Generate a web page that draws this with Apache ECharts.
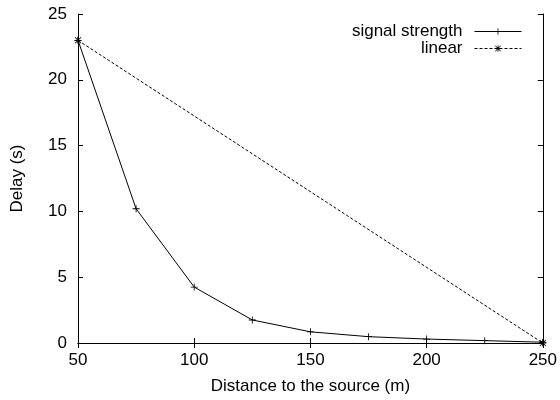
<!DOCTYPE html>
<html><head><meta charset="utf-8">
<script src="https://cdn.jsdelivr.net/npm/echarts@6/dist/echarts.min.js"></script>
<style>html,body{margin:0;padding:0;background:#fff}#c{width:560px;height:400px}</style>
</head><body><div id="c"></div>
<script>
const distances = [50, 75, 100, 125, 150, 175, 200, 225, 250];
const signalDelay = [23.0, 10.2, 4.25, 1.75, 0.85, 0.48, 0.3, 0.18, 0.06];
const linearX = [50, 250];
const linearDelay = [23.0, 0.0];
const xTicks = [50, 100, 150, 200, 250];
const yTicks = [0, 5, 10, 15, 20, 25];

const plusPath = 'path://M4.4,0H5.6V4.4H10V5.6H5.6V10H4.4V5.6H0V4.4H4.4Z';
const starPath = 'path://M4.4,0H5.6V4.4H10V5.6H5.6V10H4.4V5.6H0V4.4H4.4Z M1.2,0.4L5,4.2L8.8,0.4L9.6,1.2L5.8,5L9.6,8.8L8.8,9.6L5,5.8L1.2,9.6L0.4,8.8L4.2,5L0.4,1.2Z';

const font = 'Liberation Sans, Arial, sans-serif';
const fs = 17;
const chart = echarts.init(document.getElementById('c'), null, {renderer: 'canvas'});
const axisCommon = {
  axisLine: {show: true, lineStyle: {color: '#000', width: 1}},
  axisTick: {show: true, inside: true, length: 5, lineStyle: {color: '#000'}},
  splitLine: {show: false}
};
chart.setOption({
  animation: false,
  backgroundColor: '#fff',
  grid: {left: 78, right: 17, top: 14, bottom: 57},
  legend: {
    orient: 'vertical', right: 38, top: 23, align: 'right', padding: 0,
    itemWidth: 47, itemHeight: 8, itemGap: 0,
    lineStyle: {width: 1},
    itemStyle: {borderWidth: 0},
    textStyle: {fontFamily: font, fontSize: fs, lineHeight: 17, color: '#000', padding: [0, 7, 0, 0]},
    data: [{name: 'signal strength'}, {name: 'linear'}]
  },
  xAxis: [
    Object.assign({type: 'value', min: 50, max: 250, interval: 50, position: 'bottom',
      name: 'Distance to the source (m)', nameLocation: 'middle', nameGap: 35,
      nameTextStyle: {fontFamily: font, fontSize: fs, color: '#000'},
      axisLabel: {fontFamily: font, fontSize: fs, color: '#000', margin: 9}}, axisCommon),
    Object.assign({type: 'value', min: 50, max: 250, interval: 50, position: 'top',
      axisLabel: {show: false}}, axisCommon)
  ],
  yAxis: [
    Object.assign({type: 'value', min: 0, max: 25, interval: 5, position: 'left',
      name: 'Delay (s)', nameLocation: 'middle', nameGap: 52,
      nameTextStyle: {fontFamily: font, fontSize: fs, color: '#000'},
      axisLabel: {fontFamily: font, fontSize: fs, color: '#000', margin: 11}}, axisCommon),
    Object.assign({type: 'value', min: 0, max: 25, interval: 5, position: 'right',
      axisLabel: {show: false}}, axisCommon)
  ],
  series: [
    {name: 'signal strength', type: 'line', xAxisIndex: 0, yAxisIndex: 0,
      data: distances.map((d, i) => [d, signalDelay[i]]),
      symbol: plusPath, symbolSize: 7, showAllSymbol: true,
      lineStyle: {color: '#000', width: 1}, itemStyle: {color: '#000'}},
    {name: 'linear', type: 'line', xAxisIndex: 0, yAxisIndex: 0,
      data: linearX.map((d, i) => [d, linearDelay[i]]),
      symbol: starPath, symbolSize: 7,
      lineStyle: {color: '#000', width: 1, type: [3, 2]}, itemStyle: {color: '#000'}}
  ]
});
</script></body></html>
